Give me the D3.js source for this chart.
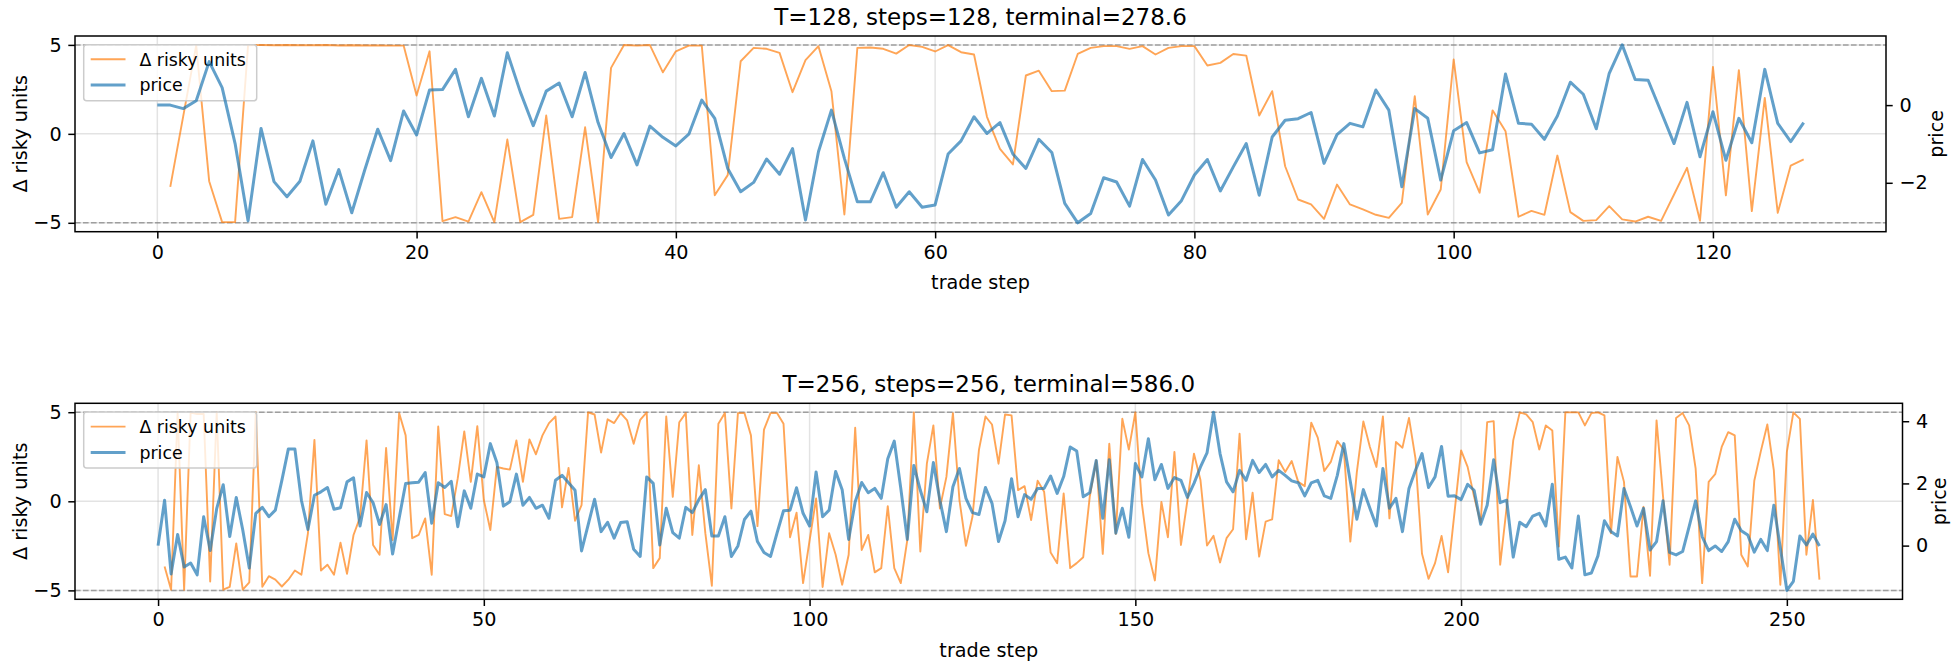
<!DOCTYPE html>
<html>
<head>
<meta charset="utf-8">
<script src="https://cdn.jsdelivr.net/npm/d3@7"></script>
<style>
  body { margin: 0; background: #fff; }
  svg { display: block; }
  text { font-family: "DejaVu Sans", sans-serif; fill: #000; }
</style>
</head>
<body>
<svg id="chart" width="1957" height="664"></svg>
<script>
// ---- panel 1: T=128 ----
const topTitle = "T=128, steps=128, terminal=278.6";
const topXTicks = [0, 20, 40, 60, 80, 100, 120];
const topPriceTicks = [-2, 0];
// price at trade steps 0..127
const topPrice = [
  0.00, 0.00, -0.09, 0.11, 1.12, 0.45, -0.99, -2.98, -0.60, -1.97,
  -2.36, -1.96, -0.92, -2.55, -1.66, -2.77, -1.67, -0.62, -1.43, -0.15,
  -0.77, 0.39, 0.40, 0.92, -0.30, 0.69, -0.28, 1.35, 0.34, -0.53,
  0.36, 0.57, -0.30, 0.84, -0.45, -1.35, -0.73, -1.54, -0.54, -0.83,
  -1.05, -0.75, 0.13, -0.34, -1.63, -2.23, -1.99, -1.39, -1.78, -1.12,
  -2.96, -1.20, -0.13, -1.37, -2.49, -2.49, -1.74, -2.63, -2.23, -2.63,
  -2.57, -1.26, -0.92, -0.30, -0.73, -0.45, -1.26, -1.63, -0.88, -1.22,
  -2.53, -3.03, -2.79, -1.87, -1.98, -2.60, -1.40, -1.93, -2.83, -2.46,
  -1.80, -1.40, -2.21, -1.59, -0.99, -2.32, -0.82, -0.39, -0.35, -0.19,
  -1.50, -0.76, -0.47, -0.56, 0.39, -0.13, -2.10, -0.09, -0.34, -1.93,
  -0.66, -0.45, -1.23, -1.15, 0.80, -0.47, -0.49, -0.88, -0.28, 0.59,
  0.28, -0.61, 0.82, 1.55, 0.66, 0.64, -0.17, -0.99, 0.07, -1.33,
  -0.17, -1.42, -0.34, -0.97, 0.92, -0.47, -0.94, -0.45
];
// change in risky units at trade steps 1..127
const topDelta = [
  -2.98, 1.00, 4.97, -2.66, -4.96, -4.96, 4.98, 4.99, 4.98, 4.99,
  4.98, 4.98, 4.99, 4.97, 4.98, 4.97, 4.97, 4.96, 4.96, 2.15,
  4.64, -4.91, -4.68, -4.93, -3.28, -4.96, -0.32, -4.96, -4.55, 1.03,
  -4.78, -4.68, 0.37, -4.96, 3.71, 4.99, 4.96, 4.99, 3.46, 4.64,
  4.96, 4.96, -3.45, -2.32, 4.08, 4.83, 4.78, 4.55, 2.34, 4.14,
  4.93, 2.40, -4.53, 4.83, 4.85, 4.78, 4.51, 4.99, 4.89, 4.63,
  4.99, 4.59, 4.46, 0.96, -0.84, -1.72, 3.28, 3.55, 2.40, 2.43,
  4.49, 4.83, 4.93, 4.93, 4.78, 4.93, 4.46, 4.83, 4.93, 4.93,
  3.84, 3.99, 4.49, 4.40, 1.03, 2.40, -1.82, -3.69, -3.97, -4.78,
  -2.85, -3.97, -4.25, -4.55, -4.72, -3.88, 2.12, -4.53, -3.13, 4.18,
  -1.59, -3.31, 1.32, 0.15, -4.66, -4.33, -4.55, -1.22, -4.40, -4.89,
  -4.85, -4.06, -4.81, -4.93, -4.66, -4.89, -3.41, -1.91, -4.89, 3.76,
  -3.46, 3.58, -4.34, 2.02, -4.44, -1.78, -1.44
];

// ---- panel 2: T=256 ----
const bottomTitle = "T=256, steps=256, terminal=586.0";
const bottomXTicks = [0, 50, 100, 150, 200, 250];
const bottomPriceTicks = [0, 2, 4];
// price at trade steps 0..255
const bottomPrice = [
  0.00, 1.46, -0.91, 0.36, -0.69, -0.56, -0.94, 0.93, -0.16, 1.19,
  1.96, 0.29, 1.55, 0.50, -0.72, 1.04, 1.23, 0.93, 1.14, 2.10,
  3.11, 3.11, 1.46, 0.52, 1.62, 1.73, 1.87, 1.17, 1.22, 2.05,
  2.18, 0.63, 1.71, 1.38, 0.68, 1.32, -0.27, 0.88, 2.00, 2.02,
  2.04, 2.35, 0.72, 2.02, 1.87, 2.07, 0.61, 1.76, 1.20, 2.30,
  2.21, 3.28, 2.67, 1.27, 1.41, 2.30, 1.30, 1.55, 1.20, 1.30,
  0.88, 2.10, 2.26, 2.02, 1.78, -0.17, 0.66, 1.49, 0.45, 0.75,
  0.24, 0.74, 0.77, -0.12, -0.35, 2.21, 2.00, 0.02, 1.20, 0.42,
  0.24, 1.23, 1.06, 1.48, 1.80, 0.31, 0.31, 0.93, -0.35, -0.01,
  0.84, 1.11, 0.13, -0.22, -0.35, 0.40, 1.12, 1.14, 1.86, 1.04,
  0.63, 2.37, 0.93, 1.14, 2.38, 1.80, 0.20, 1.41, 2.03, 1.70,
  1.84, 1.52, 2.79, 3.36, 1.84, 0.20, 2.58, 1.78, 1.09, 2.67,
  1.46, 0.45, 1.89, 2.48, 1.52, 1.06, 1.00, 1.87, 1.36, 0.13,
  0.80, 2.15, 0.93, 1.64, 1.49, 1.84, 1.84, 2.24, 1.68, 2.22,
  3.17, 3.04, 1.57, 1.70, 2.74, 0.88, 2.76, 0.40, 1.20, 0.27,
  2.64, 2.21, 3.44, 2.12, 2.61, 1.84, 2.19, 2.10, 1.55, 2.00,
  2.53, 2.98, 4.29, 2.96, 2.05, 1.73, 2.42, 2.10, 2.74, 2.35,
  2.61, 2.21, 2.42, 2.26, 2.08, 2.02, 1.60, 2.02, 2.10, 1.60,
  1.52, 2.26, 3.28, 2.05, 0.85, 1.80, 1.20, 0.63, 2.48, 1.20,
  1.52, 0.45, 1.84, 2.42, 2.96, 1.87, 2.21, 3.19, 1.59, 1.60,
  1.48, 1.97, 1.78, 0.69, 1.30, 2.76, 1.38, 1.46, -0.37, 0.75,
  0.61, 0.95, 1.04, 0.63, 1.97, -0.44, -0.37, -0.72, 0.95, -0.94,
  -0.88, -0.33, 0.80, 0.45, 0.31, 1.84, 1.25, 0.63, 1.20, -0.14,
  0.13, 1.44, -0.22, -0.30, -0.19, 0.61, 1.44, 0.29, -0.16, -0.01,
  -0.19, 0.13, 0.85, 0.48, 0.34, -0.21, 0.20, -0.16, 1.30, -0.08,
  -1.44, -1.15, 0.31, 0.02, 0.37, -0.01
];
// change in risky units at trade steps 1..255
const bottomDelta = [
  -3.66, -4.96, 4.98, -4.96, 4.98, 4.90, 4.90, -4.50, 4.98, -4.96,
  -4.80, -2.36, -4.96, -4.55, 4.98, -4.80, -4.20, -4.40, -4.78, -4.40,
  -3.88, -4.12, -1.80, 3.45, -3.88, -3.56, -4.12, -2.32, -4.07, -1.89,
  -0.90, 3.42, -2.45, -3.00, 2.99, -2.17, 4.95, 3.70, -2.07, -1.89,
  -0.96, -4.12, 4.20, -0.72, -0.83, 1.30, 3.92, 1.09, 4.22, 0.07,
  -1.61, 1.93, 1.84, 1.78, 3.42, 1.09, 3.47, 2.64, 3.70, 4.39,
  4.76, -0.34, 1.87, -1.09, -0.21, 4.99, 4.87, 2.73, 4.60, 4.39,
  4.95, 4.54, 3.23, 4.57, 4.99, -3.75, -3.19, 4.76, 0.25, 4.44,
  4.95, -1.89, 2.02, -1.79, -4.74, 4.35, 4.95, -0.40, 4.95, 4.95,
  3.70, -1.39, 4.02, 4.95, 4.95, 4.35, -2.02, -0.64, -4.59, -2.20,
  0.16, -4.81, -1.79, -3.00, -4.68, -3.00, 4.13, -2.73, -1.89, -3.99,
  -3.75, -0.27, -3.75, -4.59, -2.17, 4.99, -2.82, 2.11, 4.26, -0.40,
  1.37, 4.95, 0.07, -2.50, -0.87, 2.90, 4.76, 4.31, 2.11, 4.87,
  4.82, 0.63, 0.85, -1.05, 1.15, 0.53, -2.88, -3.47, 0.44, -3.75,
  -3.47, -3.14, 0.25, 2.30, -2.95, 3.23, -1.83, 4.63, 2.90, 4.99,
  -0.12, -2.91, -4.44, -0.03, -2.02, 2.77, -2.45, 0.07, 2.67, 1.18,
  -2.48, -1.94, -3.43, -2.07, -1.57, 3.79, -2.13, 0.48, -3.10, -1.14,
  -1.01, 2.30, 1.65, 2.26, 1.09, 0.85, 4.41, 3.57, 1.70, 2.21,
  3.38, 2.90, -2.26, 1.65, 4.48, 3.05, 1.93, 4.76, -0.96, 3.33,
  3.01, 4.68, 2.39, -2.95, -4.35, -3.47, -1.94, -3.99, -0.58, 2.86,
  1.93, 0.25, -1.20, 4.44, 4.50, -3.56, -0.31, 3.42, 4.99, 4.88,
  4.44, 2.91, 4.26, 3.98, -2.54, 4.99, 4.99, 4.99, 4.26, 4.95,
  4.99, 4.82, -1.79, 2.49, 1.09, -4.22, -4.22, -0.31, -4.18, 4.54,
  0.25, -3.56, 4.68, 4.95, 4.26, 1.83, -4.59, 1.09, 1.52, 3.05,
  3.88, 3.70, -3.00, -3.66, 1.15, 2.80, 4.31, 1.74, -4.68, 2.77,
  4.99, 4.63, -3.00, 0.07, -4.40
];

const deltaTicks = [-5, 0, 5];
const deltaBounds = [-5, 5];

const svg = d3.select("#chart");
svg.append("rect").attr("width", 1957).attr("height", 664).attr("fill", "#fff");

const FS = 19.2;         // tick / axis label size
const TITLE_FS = 23;
const LEGEND_FS = 17.4;
const TICK_LEN = 6.7;
const TICK_PAD = 6.7;
const LW = 1.5;

const ORANGE = "#ff7f0e";
const BLUE = "#1f77b4";

function padded(lo, hi) {
  const p = (hi - lo) * 0.05;
  return [lo - p, hi + p];
}

function drawPanel(cfg) {
  const b = cfg.box;
  const n = cfg.price.length;
  const x = d3.scaleLinear().domain(padded(0, n - 1)).range([b.left, b.right]);
  const y = d3.scaleLinear().domain(padded(deltaBounds[0], deltaBounds[1])).range([b.bottom, b.top]);
  const [pLo, pHi] = d3.extent(cfg.price);
  const yp = d3.scaleLinear().domain(padded(pLo, pHi)).range([b.bottom, b.top]);

  const g = svg.append("g");

  // grid
  const grid = g.append("g").attr("stroke", "#b0b0b0").attr("stroke-opacity", 0.35).attr("stroke-width", LW);
  cfg.xTicks.forEach(t => grid.append("line").attr("x1", x(t)).attr("x2", x(t)).attr("y1", b.top).attr("y2", b.bottom));
  deltaTicks.forEach(t => grid.append("line").attr("x1", b.left).attr("x2", b.right).attr("y1", y(t)).attr("y2", y(t)));

  // delta bounds
  deltaBounds.forEach(v => g.append("line")
    .attr("x1", b.left).attr("x2", b.right).attr("y1", y(v)).attr("y2", y(v))
    .attr("stroke", "#808080").attr("stroke-opacity", 0.7)
    .attr("stroke-width", LW).attr("stroke-dasharray", "5.6,2.4"));

  // delta line (steps 1..n-1)
  const deltaPts = cfg.delta.map((v, i) => [i + 1, v]);
  g.append("path").datum(deltaPts)
    .attr("fill", "none").attr("stroke", ORANGE).attr("stroke-opacity", 0.7)
    .attr("stroke-width", 1.9).attr("stroke-linejoin", "round")
    .attr("d", d3.line().x(d => x(d[0])).y(d => y(d[1])));

  // legend
  const lg = g.append("g").attr("transform", `translate(${b.left + 8.7},${b.top + 8.7})`);
  lg.append("rect").attr("width", 173).attr("height", 56).attr("rx", 3)
    .attr("fill", "#fff").attr("fill-opacity", 0.8)
    .attr("stroke", "#cccccc").attr("stroke-width", 1.5);
  const items = [
    { label: "Δ risky units", color: ORANGE, w: 1.9 },
    { label: "price", color: BLUE, w: 3 }
  ];
  items.forEach((it, k) => {
    const cy = 14.6 + k * 25.8;
    lg.append("line").attr("x1", 7).attr("x2", 41.8).attr("y1", cy).attr("y2", cy)
      .attr("stroke", it.color).attr("stroke-opacity", 0.7).attr("stroke-width", it.w);
    lg.append("text").attr("x", 55.7).attr("y", cy).attr("dy", "0.36em")
      .attr("font-size", LEGEND_FS).text(it.label);
  });

  // price line
  g.append("path").datum(cfg.price)
    .attr("fill", "none").attr("stroke", BLUE).attr("stroke-opacity", 0.7)
    .attr("stroke-width", 3).attr("stroke-linejoin", "round")
    .attr("d", d3.line().x((d, i) => x(i)).y(d => yp(d)));

  // frame
  g.append("rect").attr("x", b.left).attr("y", b.top)
    .attr("width", b.right - b.left).attr("height", b.bottom - b.top)
    .attr("fill", "none").attr("stroke", "#000").attr("stroke-width", LW);

  function styleAxis(sel) {
    sel.select(".domain").remove();
    sel.selectAll(".tick line").attr("stroke", "#000").attr("stroke-width", LW);
    sel.selectAll(".tick text").attr("font-size", FS).attr("font-family", "DejaVu Sans").attr("fill", "#000");
  }

  g.append("g").attr("transform", `translate(0,${b.bottom})`)
    .call(d3.axisBottom(x).tickValues(cfg.xTicks).tickFormat(d3.format("d"))
      .tickSize(TICK_LEN).tickPadding(TICK_PAD))
    .call(styleAxis);

  g.append("g").attr("transform", `translate(${b.left},0)`)
    .call(d3.axisLeft(y).tickValues(deltaTicks).tickFormat(d3.format("d"))
      .tickSize(TICK_LEN).tickPadding(TICK_PAD))
    .call(styleAxis);

  g.append("g").attr("transform", `translate(${b.right},0)`)
    .call(d3.axisRight(yp).tickValues(cfg.priceTicks).tickFormat(d3.format("d"))
      .tickSize(TICK_LEN).tickPadding(TICK_PAD))
    .call(styleAxis);

  // labels
  const cx = (b.left + b.right) / 2;
  const cyMid = (b.top + b.bottom) / 2;
  g.append("text").attr("x", cx).attr("y", b.top - 11.5)
    .attr("text-anchor", "middle").attr("font-size", TITLE_FS).text(cfg.title);
  g.append("text").attr("x", cx).attr("y", b.bottom + 57.5)
    .attr("text-anchor", "middle").attr("font-size", FS).text("trade step");
  g.append("text").attr("transform", `translate(27,${cyMid}) rotate(-90)`)
    .attr("text-anchor", "middle").attr("font-size", FS).text("Δ risky units");
  g.append("text").attr("transform", `translate(${cfg.priceLabelX},${cyMid}) rotate(-90)`)
    .attr("text-anchor", "middle").attr("font-size", FS).text("price");
}

drawPanel({
  box: { left: 75, right: 1886, top: 36, bottom: 231.7 },
  price: topPrice, delta: topDelta, title: topTitle,
  xTicks: topXTicks, priceTicks: topPriceTicks, priceLabelX: 1943
});

drawPanel({
  box: { left: 75, right: 1902.5, top: 403.3, bottom: 599.3 },
  price: bottomPrice, delta: bottomDelta, title: bottomTitle,
  xTicks: bottomXTicks, priceTicks: bottomPriceTicks, priceLabelX: 1946
});
</script>
</body>
</html>
